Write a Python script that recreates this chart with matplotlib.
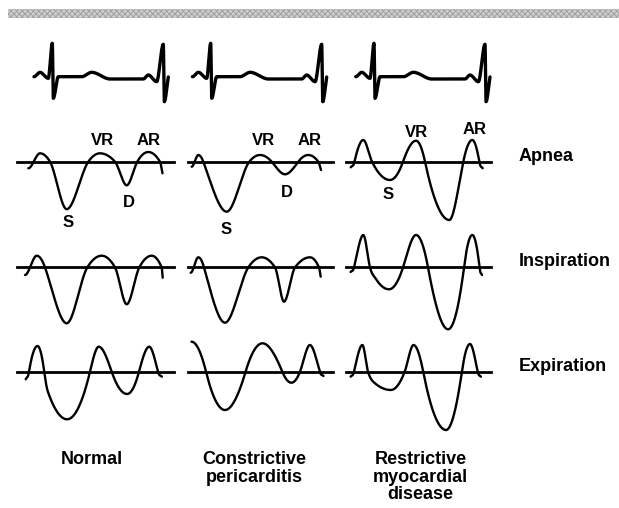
import numpy as np
import matplotlib
matplotlib.use("Agg")
import matplotlib.pyplot as plt
from matplotlib.patches import Rectangle

# ---- data (pixel units, y grows downward) ----

column_names = ["Normal", "Constrictive\npericarditis", "Restrictive\nmyocardial\ndisease"]
column_label_x = [91.8, 254.6, 420.4]

row_names = ["Apnea", "Inspiration", "Expiration"]
row_baseline_y = [161.7, 267.4, 371.7]

# baseline extent for each column
baseline_x0 = [16.7, 188.3, 346.0]
baseline_x1 = [174.0, 332.5, 491.0]

# ECG knots relative to the first R spike (dx, y)
ecg_dx = [-18.3, -12.3, -4.0, 0.0, 1.0, 6.0, 29.4, 39.4, 57.7, 91.0, 96.0, 104.4, 111.0, 112.0, 116.0]
ecg_y = [76.7, 72.3, 78.3, 43.3, 98.3, 76.7, 76.7, 72.3, 79.0, 79.0, 75.0, 81.7, 44.3, 101.7, 77.0]
ecg_r_x = [52.3, 210.7, 374.0]

# hepatic vein doppler knots (peaks, troughs and baseline crossings), per panel
wave_x = {
    ("Apnea", 0): [28.3, 40.0, 50.0, 66.7, 88.3, 100.0, 115.0, 126.7, 137.3, 148.3, 160.0, 162.5],
    ("Apnea", 1): [191.7, 198.3, 203.3, 226.7, 249.3, 260.0, 271.7, 285.0, 298.3, 308.3, 318.3, 321.0],
    ("Apnea", 2): [350.7, 354.5, 363.3, 372.0, 390.0, 403.0, 416.0, 425.0, 449.3, 463.3, 472.3, 479.3, 482.7],
    ("Inspiration", 0): [25.0, 36.7, 45.0, 66.7, 87.3, 101.7, 115.0, 126.7, 139.3, 151.7, 161.7, 162.7],
    ("Inspiration", 1): [190.7, 198.3, 204.0, 225.0, 248.3, 261.7, 275.0, 284.0, 295.0, 310.0, 319.0, 320.7],
    ("Inspiration", 2): [350.6, 354.0, 363.3, 370.0, 376.0, 389.0, 403.0, 416.0, 428.0, 448.1, 464.0, 472.3, 479.5, 482.0],
    ("Expiration", 0): [25.7, 29.0, 37.5, 44.2, 48.0, 67.1, 90.0, 98.7, 111.7, 127.1, 139.0, 149.2, 158.0, 161.9],
    ("Expiration", 1): [191.5, 206.0, 225.0, 245.6, 262.5, 282.3, 291.4, 300.0, 309.9, 319.8, 323.5],
    ("Expiration", 2): [350.6, 354.0, 362.4, 368.0, 375.0, 390.8, 404.7, 413.5, 423.2, 446.1, 461.9, 470.0, 477.7, 480.9],
}
wave_y = {
    ("Apnea", 0): [168.3, 153.3, 161.7, 209.2, 161.7, 153.3, 161.7, 185.3, 161.7, 152.0, 161.7, 173.3],
    ("Apnea", 1): [166.7, 155.0, 161.7, 211.7, 161.7, 155.0, 161.7, 174.3, 161.7, 155.0, 161.7, 170.0],
    ("Apnea", 2): [167.3, 161.7, 140.0, 161.7, 180.0, 161.7, 140.7, 161.7, 220.0, 161.7, 140.0, 161.7, 168.3],
    ("Inspiration", 0): [275.0, 255.7, 267.4, 323.3, 267.4, 255.7, 267.4, 304.3, 267.4, 255.7, 267.4, 277.7],
    ("Inspiration", 1): [272.7, 257.3, 267.4, 322.7, 267.4, 257.3, 267.4, 301.7, 267.4, 257.3, 267.4, 276.7],
    ("Inspiration", 2): [272.0, 267.4, 235.0, 267.4, 279.0, 289.3, 267.4, 235.0, 267.4, 329.3, 267.4, 235.0, 267.4, 275.0],
    ("Expiration", 0): [379.3, 371.7, 346.0, 371.7, 392.0, 419.3, 371.7, 346.7, 371.7, 394.0, 371.7, 346.7, 371.7, 376.7],
    ("Expiration", 1): [341.7, 371.7, 410.0, 371.7, 343.3, 371.7, 382.7, 371.7, 345.0, 371.7, 376.0],
    ("Expiration", 2): [376.7, 371.7, 345.0, 371.7, 383.3, 390.0, 371.7, 345.0, 371.7, 430.0, 371.7, 344.0, 371.7, 376.7],
}

# wave labels on the apnea row (text, x, baseline y)
peak_labels = [
    ("VR", 102.3, 145.0), ("AR", 148.3, 145.0), ("S", 68.3, 226.7), ("D", 129.3, 207.3),
    ("VR", 263.3, 145.0), ("AR", 309.3, 145.0), ("S", 226.0, 234.3), ("D", 287.3, 196.7),
    ("VR", 416.7, 136.7), ("AR", 475.0, 134.0), ("S", 388.3, 199.0),
]


def SmoothPath(xs, ys, n=40):
    # cubic hermite through the knots, flat at peaks/troughs
    xs = np.asarray(xs, float)
    ys = np.asarray(ys, float)
    h = np.diff(xs)
    d = np.diff(ys) / h
    last = len(xs) - 1
    short_head = h[0] < 6
    short_tail = h[-1] < 6
    m = np.zeros_like(ys)
    for i in range(1, last):
        if d[i - 1] * d[i] > 0:
            a, b = abs(d[i - 1]), abs(d[i])
            if i == 1 and short_head:
                s = min(2 * b, 3 * a)      # short lead-in
            elif i == last - 1 and short_tail:
                s = min(2 * a, 3 * b)      # short tail
            else:
                s = 2 * min(a, b)
            m[i] = np.sign(d[i]) * s
    # a long first/last piece starts flat, like the end of a hump
    m[0] = d[0] if short_head else 0.0
    m[-1] = d[-1] if short_tail else 0.0

    px, py = [], []
    t = np.linspace(0, 1, n)
    for i in range(len(h)):
        h00 = 2 * t**3 - 3 * t**2 + 1
        h10 = t**3 - 2 * t**2 + t
        h01 = -2 * t**3 + 3 * t**2
        h11 = t**3 - t**2
        seg = h00 * ys[i] + h10 * h[i] * m[i] + h01 * ys[i + 1] + h11 * h[i] * m[i + 1]
        px.extend(xs[i] + t * h[i])
        py.extend(seg)
    return np.array(px), np.array(py)


fig = plt.figure(figsize=(6.19, 5.08), dpi=100)
ax = fig.add_axes([0, 0, 1, 1])
ax.set_xlim(0, 619)
ax.set_ylim(508, 0)
ax.axis("off")

font = ["Liberation Sans", "DejaVu Sans"]

# hatched band across the top
plt.rcParams["hatch.linewidth"] = 0.6
ax.add_patch(Rectangle((8, 9.3), 612, 9, facecolor="#cdcdcd", edgecolor="#9e9e9e",
                       hatch="xxxxxx", linewidth=0))

# ECG strips
for r in ecg_r_x:
    ex, ey = SmoothPath(np.array(ecg_dx) + r, ecg_y, n=30)
    ax.plot(ex, ey, color="black", lw=2.4, solid_capstyle="round", solid_joinstyle="round")

# baselines + doppler waves
for ri, row in enumerate(row_names):
    by = row_baseline_y[ri]
    for ci in range(3):
        ax.plot([baseline_x0[ci], baseline_x1[ci]], [by, by], color="black", lw=2.0)
        wx, wy = SmoothPath(wave_x[(row, ci)], wave_y[(row, ci)])
        ax.plot(wx, wy, color="black", lw=1.7, solid_capstyle="round")
    ax.text(519, by - 1, row, fontsize=13, fontweight="bold", family=font,
            ha="left", va="baseline")

for txt, x, y in peak_labels:
    ax.text(x, y, txt, fontsize=12, fontweight="bold", family=font, ha="center", va="baseline")

for ci, name in enumerate(column_names):
    ax.text(column_label_x[ci], 451, name, fontsize=13, fontweight="bold", family=font,
            ha="center", va="top", linespacing=1.05)

fig.savefig("out.png", dpi=100)
